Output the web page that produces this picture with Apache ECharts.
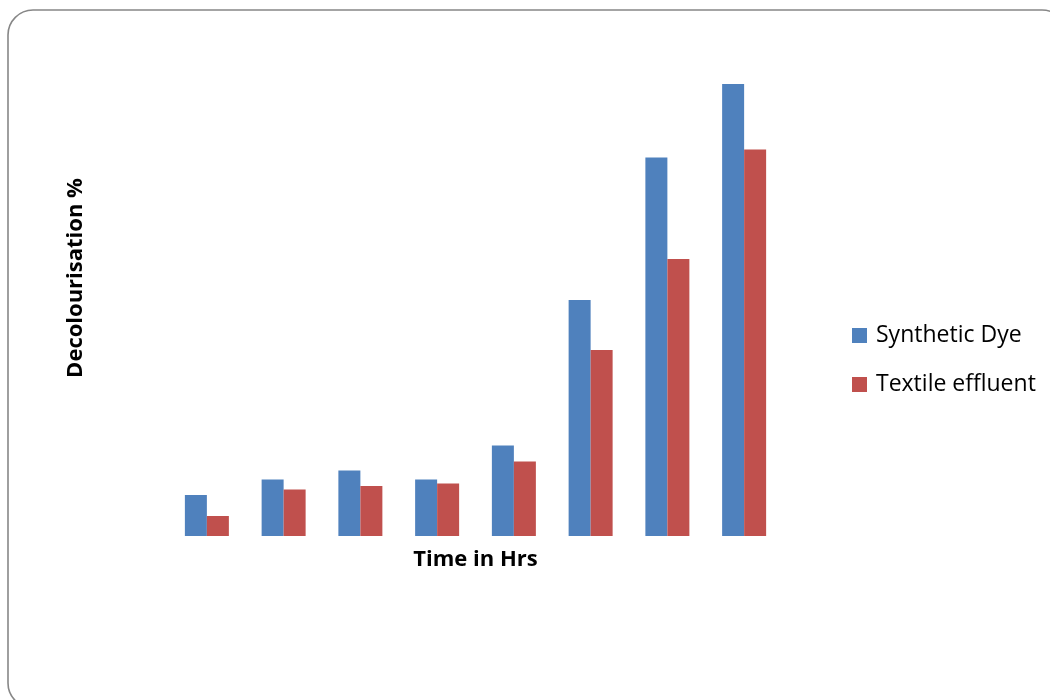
<!DOCTYPE html>
<html>
<head>
<meta charset="utf-8">
<title>Decolourisation over time</title>
<script src="https://cdn.jsdelivr.net/npm/echarts@6/dist/echarts.min.js"></script>
<style>
  html, body { margin: 0; padding: 0; background: #ffffff; }
  #chart { width: 1050px; height: 700px; }
</style>
</head>
<body>
<div id="chart"></div>
<script>
// Sampling times (hours); labels are not shown on the axis
const timePoints = ['12', '24', '36', '48', '60', '72', '84', '96'];

// Decolourisation (%) per sampling time
const syntheticDye = [8.2, 11.3, 13.1, 11.3, 18.1, 47.2, 75.7, 90.4];
const textileEffluent = [4.0, 9.3, 10.0, 10.5, 14.9, 37.2, 55.4, 77.3];

const seriesNames = ['Synthetic Dye', 'Textile effluent'];
const seriesColors = ['#4F81BD', '#C0504D'];

const FONT = '"Open Sans", "Noto Sans", sans-serif';

const chart = echarts.init(document.getElementById('chart'), null, { renderer: 'canvas' });

chart.setOption({
  backgroundColor: '#ffffff',
  animation: false,
  color: seriesColors,
  grid: { left: 168.5, right: 267.5, top: 36, bottom: 164, containLabel: false },
  legend: {
    orient: 'vertical',
    left: 852,
    top: 324,
    padding: 0,
    itemWidth: 15,
    itemHeight: 15,
    itemGap: 26,
    icon: 'rect',
    textStyle: { fontFamily: FONT, fontSize: 23, color: '#000000', padding: [0, 0, 0, 4] },
    data: seriesNames
  },
  xAxis: {
    type: 'category',
    data: timePoints,
    name: 'Time in Hrs',
    nameLocation: 'middle',
    nameGap: 13,
    nameTextStyle: { fontFamily: FONT, fontSize: 22, fontWeight: 'bold', color: '#000000' },
    axisLine: { show: false },
    axisTick: { show: false },
    axisLabel: { show: false },
    splitLine: { show: false }
  },
  yAxis: {
    type: 'value',
    min: 0,
    max: 100,
    interval: 10,
    axisLine: { show: false },
    axisTick: { show: false },
    axisLabel: { show: false },
    splitLine: { show: false }
  },
  graphic: [
    {
      type: 'rect',
      shape: { x: 8, y: 10, width: 1059, height: 698, r: 25 },
      style: { fill: 'none', stroke: '#878787', lineWidth: 1.6 },
      z: 0
    },
    {
      type: 'text',
      x: 76,
      y: 278,
      rotation: Math.PI / 2,
      style: {
        text: 'Decolourisation %',
        fontFamily: FONT,
        fontSize: 22,
        fontWeight: 'bold',
        fill: '#000000',
        align: 'center',
        verticalAlign: 'middle'
      }
    }
  ],
  series: [
    {
      name: seriesNames[0],
      type: 'bar',
      data: syntheticDye,
      barWidth: 22,
      barGap: '0%',
      itemStyle: { color: seriesColors[0] }
    },
    {
      name: seriesNames[1],
      type: 'bar',
      data: textileEffluent,
      barWidth: 22,
      barGap: '0%',
      itemStyle: { color: seriesColors[1] }
    }
  ]
});
</script>
</body>
</html>
